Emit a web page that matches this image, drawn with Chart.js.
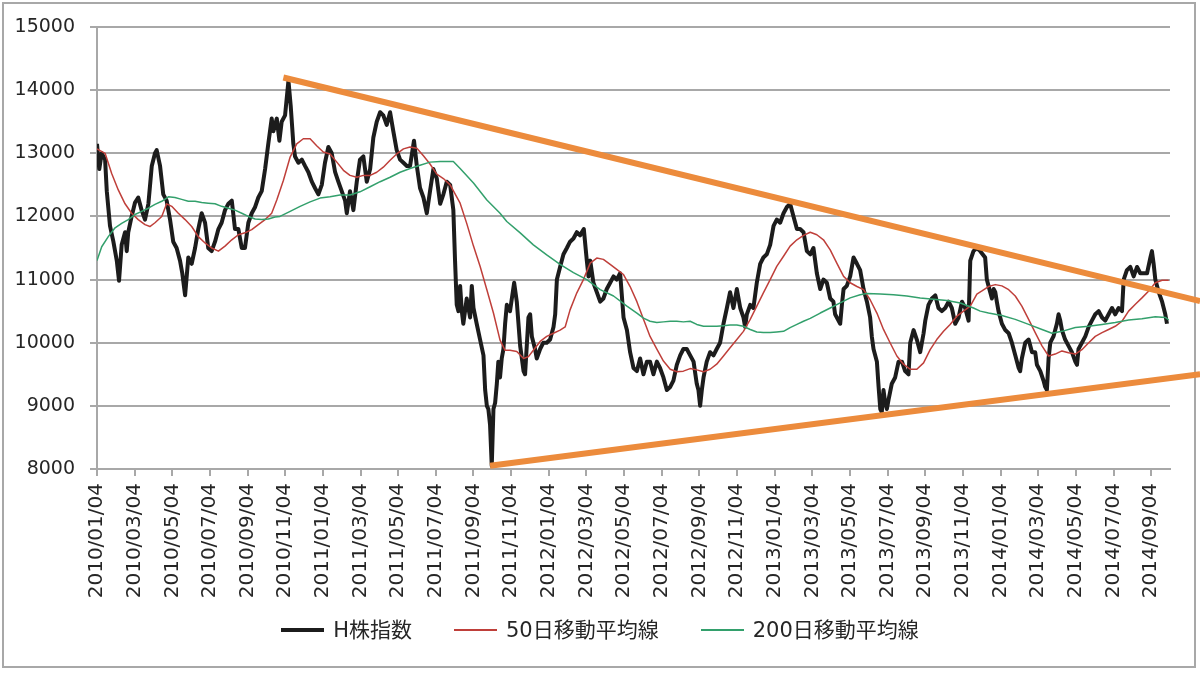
<!DOCTYPE html>
<html lang="ja">
<head>
<meta charset="utf-8">
<title>H株指数</title>
<script src="https://cdn.jsdelivr.net/npm/chart.js@4.4.1/dist/chart.umd.min.js"></script>
<style>
  html, body { margin: 0; padding: 0; background: #fff; overflow: hidden; }
  #frame { position: absolute; left: 2px; top: 2px; width: 1190px; height: 662px; border: 2px solid #a8a8a8; }
  #wrap { position: absolute; left: 0; top: 0; width: 1200px; height: 673px; }
  #legend {
    position: absolute; left: 0; top: 615px; width: 1200px; height: 30px;
    display: flex; justify-content: center; align-items: center; gap: 42px;
    font-family: 'DejaVu Sans', 'Noto Sans CJK JP', sans-serif; font-size: 21px;
    line-height: 30px; color: #262626;
  }
  #legend .item { display: flex; align-items: center; }
  #legend .swatch { display: inline-block; width: 43px; margin-right: 9px; }
</style>
</head>
<body>
<div id="frame"></div>
<div id="wrap"><canvas id="chart" width="1200" height="673"></canvas></div>
<div id="legend"></div>
<script>
// x values are months counted from 2010/01/04
const tickLabels = [
    '2010/01/04', '2010/03/04', '2010/05/04', '2010/07/04', '2010/09/04', '2010/11/04',
    '2011/01/04', '2011/03/04', '2011/05/04', '2011/07/04', '2011/09/04', '2011/11/04',
    '2012/01/04', '2012/03/04', '2012/05/04', '2012/07/04', '2012/09/04', '2012/11/04',
    '2013/01/04', '2013/03/04', '2013/05/04', '2013/07/04', '2013/09/04', '2013/11/04',
    '2014/01/04', '2014/03/04', '2014/05/04', '2014/07/04', '2014/09/04'
];

const seriesNames = ['H株指数', '50日移動平均線', '200日移動平均線'];

// H株指数
const hMonths = [
    0.00, 0.12, 0.25, 0.43, 0.52, 0.69, 0.87, 1.05, 1.17, 1.31, 1.49, 1.58, 1.66, 1.84, 2.02, 2.19, 2.37, 2.55, 2.73, 2.91,
    3.08, 3.17, 3.35, 3.52, 3.70, 3.88, 4.05, 4.23, 4.41, 4.53, 4.68, 4.85, 5.03, 5.21, 5.38, 5.56, 5.74, 5.91, 6.09, 6.27,
    6.45, 6.62, 6.80, 6.98, 7.16, 7.33, 7.51, 7.69, 7.86, 8.04, 8.22, 8.40, 8.57, 8.75, 8.93, 9.10, 9.28, 9.37, 9.55, 9.69,
    9.81, 9.99, 10.17, 10.29, 10.43, 10.52, 10.70, 10.88, 11.05, 11.23, 11.41, 11.58, 11.76, 11.94, 12.11, 12.29, 12.47, 12.65, 12.82, 13.00,
    13.18, 13.27, 13.44, 13.62, 13.80, 13.97, 14.15, 14.33, 14.51, 14.68, 14.86, 15.04, 15.21, 15.39, 15.57, 15.74, 15.92, 16.10, 16.28, 16.46,
    16.63, 16.84, 16.99, 17.16, 17.34, 17.52, 17.69, 17.87, 18.05, 18.23, 18.40, 18.58, 18.76, 18.93, 19.02, 19.11, 19.20, 19.29, 19.38, 19.46,
    19.64, 19.82, 19.91, 20.00, 20.17, 20.35, 20.53, 20.62, 20.71, 20.79, 20.88, 20.97, 21.06, 21.15, 21.24, 21.32, 21.41, 21.50, 21.59, 21.68,
    21.77, 21.94, 22.16, 22.30, 22.48, 22.66, 22.74, 22.92, 23.01, 23.10, 23.27, 23.36, 23.54, 23.71, 23.89, 24.07, 24.25, 24.34, 24.43, 24.60,
    24.78, 24.96, 25.13, 25.31, 25.49, 25.66, 25.86, 26.02, 26.11, 26.20, 26.37, 26.55, 26.73, 26.90, 27.08, 27.26, 27.44, 27.61, 27.79, 27.97,
    28.15, 28.32, 28.50, 28.68, 28.85, 29.03, 29.21, 29.38, 29.56, 29.74, 29.91, 30.09, 30.27, 30.45, 30.62, 30.80, 30.98, 31.15, 31.33, 31.51,
    31.69, 31.86, 31.95, 32.04, 32.13, 32.22, 32.39, 32.57, 32.75, 32.92, 33.10, 33.19, 33.28, 33.46, 33.63, 33.81, 33.99, 34.17, 34.34, 34.43,
    34.52, 34.70, 34.87, 35.05, 35.23, 35.40, 35.58, 35.76, 35.94, 36.11, 36.29, 36.47, 36.65, 36.82, 37.00, 37.18, 37.35, 37.53, 37.71, 37.89,
    38.06, 38.15, 38.24, 38.42, 38.59, 38.77, 38.95, 39.12, 39.21, 39.48, 39.57, 39.66, 39.83, 40.01, 40.19, 40.37, 40.54, 40.72, 40.90, 41.07,
    41.16, 41.25, 41.43, 41.52, 41.61, 41.69, 41.78, 41.87, 41.96, 42.05, 42.22, 42.40, 42.58, 42.76, 42.93, 43.11, 43.20, 43.38, 43.55, 43.73,
    43.91, 44.00, 44.17, 44.35, 44.53, 44.70, 44.88, 45.06, 45.24, 45.41, 45.59, 45.77, 45.95, 46.12, 46.30, 46.39, 46.56, 46.74, 46.92, 47.18,
    47.27, 47.36, 47.45, 47.54, 47.63, 47.72, 47.80, 47.89, 48.07, 48.25, 48.43, 48.60, 48.78, 48.96, 49.04, 49.13, 49.31, 49.49, 49.67, 49.84,
    49.93, 50.11, 50.28, 50.37, 50.46, 50.55, 50.64, 50.81, 50.99, 51.08, 51.17, 51.26, 51.43, 51.61, 51.79, 51.97, 52.06, 52.14, 52.32, 52.50,
    52.68, 52.85, 53.03, 53.21, 53.39, 53.56, 53.74, 53.92, 54.09, 54.27, 54.45, 54.54, 54.71, 54.89, 55.07, 55.25, 55.42, 55.60, 55.78, 55.96,
    56.04, 56.13, 56.22, 56.40, 56.58, 56.75, 56.84
];
const hValues = [
    13150, 12750, 13000, 12900, 12400, 11850, 11600, 11300, 10980, 11550, 11750, 11450, 11750, 12000, 12220, 12300, 12100, 11950, 12200, 12800,
    13000, 13050, 12800, 12350, 12250, 11950, 11600, 11500, 11300, 11100, 10750, 11350, 11250, 11500, 11800, 12050, 11900, 11500, 11450, 11600,
    11800, 11900, 12100, 12200, 12250, 11800, 11800, 11500, 11500, 11900, 12050, 12150, 12300, 12400, 12750, 13150, 13550, 13350, 13550, 13200,
    13500, 13600, 14150, 13750, 13150, 12950, 12850, 12900, 12800, 12700, 12550, 12450, 12350, 12500, 12850, 13100, 13000, 12700, 12550, 12400,
    12250, 12050, 12400, 12100, 12550, 12900, 12950, 12550, 12750, 13250, 13500, 13650, 13600, 13450, 13650, 13350, 13050, 12900, 12850, 12800,
    12800, 13200, 12800, 12450, 12300, 12050, 12400, 12750, 12600, 12200, 12350, 12550, 12500, 12100, 11300, 10600, 10500, 10900, 10500, 10300,
    10700, 10400, 10900, 10550, 10300, 10050, 9800, 9250, 9000, 8950, 8700, 8050, 8950, 9050, 9350, 9700, 9450, 9750, 9900, 10300,
    10600, 10500, 10950, 10650, 9950, 9550, 9500, 10400, 10450, 10100, 9900, 9750, 9900, 10000, 10000, 10050, 10250, 10450, 11000, 11200,
    11400, 11500, 11600, 11650, 11750, 11700, 11800, 11300, 11050, 11300, 10950, 10800, 10650, 10700, 10850, 10950, 11050, 11000, 11100, 10400,
    10200, 9850, 9600, 9550, 9750, 9500, 9700, 9700, 9500, 9700, 9600, 9450, 9250, 9300, 9400, 9650, 9800, 9900, 9900, 9800,
    9700, 9350, 9250, 9000, 9250, 9450, 9700, 9850, 9800, 9900, 10000, 10150, 10300, 10550, 10800, 10550, 10850, 10550, 10400, 10250,
    10450, 10600, 10550, 10950, 11250, 11350, 11400, 11550, 11850, 11950, 11900, 12050, 12150, 12200, 12000, 11800, 11800, 11750, 11450, 11400,
    11500, 11300, 11100, 10850, 11000, 10950, 10700, 10650, 10450, 10300, 10600, 10850, 10900, 11050, 11350, 11250, 11150, 10850, 10650, 10400,
    10100, 9900, 9700, 9300, 8950, 8900, 9250, 9050, 8950, 9100, 9350, 9450, 9700, 9700, 9550, 9500, 10000, 10200, 10050, 9850,
    10150, 10350, 10600, 10700, 10750, 10550, 10500, 10550, 10650, 10550, 10300, 10400, 10650, 10550, 10350, 11300, 11450, 11500, 11450, 11350,
    11000, 10900, 10800, 10700, 10850, 10800, 10650, 10500, 10300, 10200, 10150, 10000, 9800, 9600, 9550, 9750, 10000, 10050, 9850, 9850,
    9650, 9550, 9400, 9300, 9250, 9750, 10000, 10100, 10300, 10450, 10350, 10200, 10050, 9950, 9850, 9700, 9650, 9900, 10000, 10100,
    10250, 10350, 10450, 10500, 10400, 10350, 10450, 10550, 10450, 10550, 10500, 11000, 11150, 11200, 11050, 11200, 11100, 11100, 11100, 11350,
    11450, 11250, 11000, 10800, 10650, 10450, 10300
];

// 50日移動平均線
const ma50Months = [
    0.00, 0.43, 0.78, 1.13, 1.49, 1.84, 2.19, 2.55, 2.81, 3.08, 3.44, 3.70, 3.97, 4.32, 4.68, 5.03, 5.38, 5.74, 6.09, 6.45,
    6.80, 7.16, 7.51, 7.86, 8.22, 8.57, 8.93, 9.28, 9.55, 9.90, 10.26, 10.61, 10.96, 11.32, 11.67, 12.02, 12.38, 12.74, 13.09, 13.44,
    13.80, 14.15, 14.51, 14.86, 15.21, 15.57, 15.92, 16.28, 16.63, 16.99, 17.34, 17.69, 18.05, 18.40, 18.76, 19.29, 19.64, 20.00, 20.35, 20.71,
    21.06, 21.41, 21.68, 21.94, 22.30, 22.66, 22.92, 23.18, 23.54, 23.89, 24.25, 24.60, 24.87, 25.13, 25.49, 25.84, 26.20, 26.55, 26.90, 27.26,
    27.61, 27.97, 28.32, 28.68, 29.03, 29.38, 29.74, 30.09, 30.45, 30.80, 31.15, 31.51, 31.86, 32.22, 32.57, 32.92, 33.28, 33.63, 33.99, 34.34,
    34.70, 35.05, 35.40, 35.76, 36.11, 36.47, 36.82, 37.18, 37.53, 37.89, 38.24, 38.59, 38.95, 39.30, 39.66, 40.01, 40.37, 40.72, 41.07, 41.43,
    41.78, 42.13, 42.49, 42.84, 43.20, 43.55, 43.91, 44.26, 44.61, 44.97, 45.32, 45.68, 46.03, 46.39, 46.74, 47.01, 47.36, 47.72, 48.07, 48.43,
    48.78, 49.13, 49.49, 49.84, 50.20, 50.55, 50.90, 51.26, 51.61, 51.97, 52.32, 52.68, 53.03, 53.39, 53.74, 54.09, 54.45, 54.80, 55.16, 55.51,
    55.87, 56.22, 56.58, 56.93
];
const ma50Values = [
    13070, 13000, 12680, 12420, 12200, 12050, 11950, 11870, 11840, 11900, 12000, 12200, 12160, 12050, 11950, 11840, 11680, 11580, 11500, 11450,
    11530, 11630, 11710, 11740, 11790, 11870, 11950, 12050, 12260, 12570, 12940, 13150, 13230, 13230, 13120, 13020, 12990, 12860, 12730, 12650,
    12620, 12650, 12650, 12700, 12780, 12890, 12990, 13070, 13100, 13080, 12960, 12830, 12670, 12600, 12500, 12210, 11890, 11530, 11210, 10840,
    10470, 10040, 9880, 9880, 9860, 9750, 9780, 9880, 10020, 10100, 10150, 10200, 10250, 10520, 10790, 11000, 11260, 11340, 11320, 11240,
    11160, 11080, 10890, 10650, 10370, 10100, 9900, 9710, 9580, 9540, 9550, 9590, 9570, 9540, 9580, 9660, 9790, 9920, 10050, 10180,
    10370, 10580, 10790, 11000, 11210, 11370, 11530, 11630, 11700, 11750, 11710, 11630, 11470, 11260, 11050, 10950, 10890, 10840, 10680, 10470,
    10210, 10000, 9790, 9660, 9580, 9580, 9680, 9890, 10050, 10180, 10290, 10420, 10500, 10580, 10770, 10820, 10890, 10920, 10900, 10840,
    10740, 10580, 10370, 10160, 9950, 9790, 9820, 9870, 9840, 9820, 9890, 10000, 10100, 10160, 10210, 10260, 10340, 10500, 10610, 10710,
    10820, 10950, 10990, 10990
];

// 200日移動平均線
const ma200Months = [
    0.00, 0.25, 0.60, 0.96, 1.31, 1.66, 2.02, 2.37, 2.73, 3.08, 3.44, 3.79, 4.14, 4.50, 4.85, 5.21, 5.56, 5.91, 6.27, 6.62,
    6.98, 7.33, 7.69, 8.04, 8.40, 8.75, 9.10, 9.46, 9.72, 10.26, 10.79, 11.32, 11.85, 12.38, 12.91, 13.44, 13.97, 14.51, 15.04, 15.57,
    16.10, 16.63, 17.16, 17.69, 18.23, 18.93, 19.29, 20.00, 20.71, 21.41, 21.77, 22.48, 23.18, 23.89, 24.60, 25.31, 26.02, 26.73, 27.44, 28.15,
    28.68, 29.03, 29.38, 29.74, 30.09, 30.45, 30.80, 31.15, 31.51, 31.86, 32.22, 32.57, 32.92, 33.28, 33.63, 33.99, 34.34, 34.70, 35.05, 35.40,
    35.76, 36.11, 36.47, 36.82, 37.18, 37.53, 37.89, 38.42, 38.95, 39.48, 40.01, 40.54, 40.90, 41.61, 42.31, 43.02, 43.73, 44.44, 45.15, 45.86,
    46.56, 46.92, 47.36, 48.07, 48.78, 49.49, 50.20, 50.73, 51.26, 51.97, 52.68, 53.39, 54.09, 54.80, 55.51, 56.22, 56.75, 56.93
];
const ma200Values = [
    11300, 11520, 11680, 11820, 11890, 11950, 12030, 12080, 12130, 12190, 12240, 12310, 12300, 12270, 12240, 12240, 12220, 12210, 12200, 12160,
    12130, 12100, 12050, 12000, 11960, 11950, 11960, 11990, 12000, 12080, 12160, 12230, 12290, 12310, 12340, 12340, 12390, 12470, 12550, 12620,
    12700, 12760, 12810, 12860, 12870, 12870, 12760, 12530, 12260, 12050, 11920, 11740, 11550, 11390, 11240, 11110, 11000, 10840, 10740, 10580,
    10470, 10390, 10340, 10320, 10330, 10340, 10340, 10330, 10340, 10290, 10260, 10260, 10260, 10270, 10280, 10280, 10260, 10210, 10170, 10160,
    10160, 10170, 10180, 10240, 10290, 10340, 10385, 10470, 10550, 10630, 10710, 10760, 10780, 10770, 10760, 10740, 10710, 10690, 10670, 10630,
    10550, 10500, 10470, 10430, 10370, 10290, 10210, 10150, 10180, 10240, 10260, 10290, 10320, 10360, 10380, 10410, 10400, 10360
];

// trend lines drawn on the chart
const upperTrendMonths = [9.90, 58.60];
const upperTrendValues = [14200, 10660];
const lowerTrendMonths = [20.88, 58.60];
const lowerTrendValues = [8050, 9500];

const yTicks = { min: 8000, max: 15000, step: 1000 };

function toPoints(xs, ys) {
    return xs.map((x, i) => ({ x: x, y: ys[i] }));
}

const axisGray = '#a8a8a8';
const textColor = '#262626';

const chart = new Chart(document.getElementById('chart').getContext('2d'), {
    type: 'line',
    data: {
        datasets: [
            {
                label: seriesNames[0],
                data: toPoints(hMonths, hValues),
                borderColor: '#1c1c1c',
                borderWidth: 4,
                order: 3
            },
            {
                label: seriesNames[1],
                data: toPoints(ma50Months, ma50Values),
                borderColor: '#bf3f3a',
                borderWidth: 1.5,
                order: 2
            },
            {
                label: seriesNames[2],
                data: toPoints(ma200Months, ma200Values),
                borderColor: '#33a06c',
                borderWidth: 1.5,
                order: 1
            },
            {
                label: 'upper',
                data: toPoints(upperTrendMonths, upperTrendValues),
                borderColor: '#ec8b3c',
                borderWidth: 6,
                clip: false,
                order: 0
            },
            {
                label: 'lower',
                data: toPoints(lowerTrendMonths, lowerTrendValues),
                borderColor: '#ec8b3c',
                borderWidth: 6,
                clip: false,
                order: 0
            }
        ]
    },
    options: {
        responsive: false,
        animation: false,
        devicePixelRatio: 1,
        layout: {
            padding: { top: 27, right: 30, bottom: 69, left: 0 }
        },
        elements: {
            point: { radius: 0 },
            line: { tension: 0, borderJoinStyle: 'round' }
        },
        scales: {
            x: {
                type: 'linear',
                min: 0,
                max: 57,
                afterFit: function(scale) {
                    scale.height = 135;
                },
                ticks: {
                    stepSize: 2,
                    includeBounds: false,
                    autoSkip: false,
                    minRotation: 90,
                    maxRotation: 90,
                    padding: 7,
                    color: textColor,
                    font: { family: 'DejaVu Sans', size: 20 },
                    callback: function(value) {
                        return tickLabels[Math.round(value / 2)];
                    }
                },
                grid: {
                    drawOnChartArea: false,
                    drawTicks: true,
                    tickLength: 7,
                    color: axisGray,
                    lineWidth: 2
                },
                border: { display: true, color: axisGray, width: 2 }
            },
            y: {
                min: yTicks.min,
                max: yTicks.max,
                afterFit: function(scale) {
                    scale.width = 97;
                },
                ticks: {
                    stepSize: yTicks.step,
                    padding: 15,
                    color: textColor,
                    font: { family: 'DejaVu Sans', size: 19 },
                    callback: function(value) {
                        return String(value);
                    }
                },
                grid: {
                    color: axisGray,
                    lineWidth: 2,
                    tickLength: 7
                },
                border: { display: true, color: axisGray, width: 2 }
            }
        },
        plugins: {
            tooltip: { enabled: false },
            legend: { display: false }
        }
    }
});

// legend built from the first three datasets
const legendEl = document.getElementById('legend');
chart.data.datasets.slice(0, 3).forEach(ds => {
    const item = document.createElement('span');
    item.className = 'item';
    const swatch = document.createElement('span');
    swatch.className = 'swatch';
    swatch.style.background = ds.borderColor;
    swatch.style.height = Math.ceil(ds.borderWidth) + 'px';
    const text = document.createElement('span');
    text.textContent = ds.label;
    item.appendChild(swatch);
    item.appendChild(text);
    legendEl.appendChild(item);
});
</script>
</body>
</html>
